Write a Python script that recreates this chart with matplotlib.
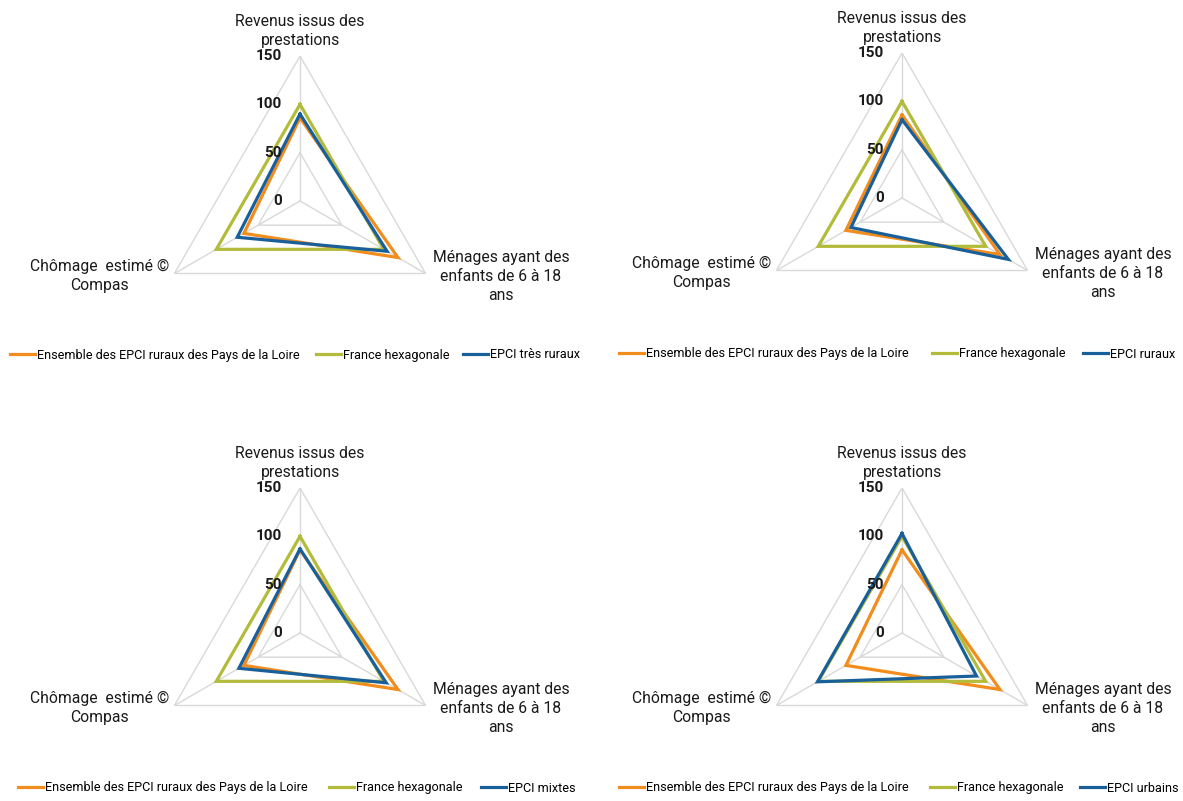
import numpy as np
import matplotlib
matplotlib.use("Agg")
import matplotlib.pyplot as plt
from matplotlib.lines import Line2D

plt.rcParams['font.family'] = ['Roboto', 'DejaVu Sans']

# data
categories = ["Revenus issus des\nprestations",
              "Ménages ayant des\nenfants de 6 à 18\nans",
              "Chômage  estimé ©\nCompas"]
ensemble_pdl = [86, 117, 67]
france_hexa  = [100, 100, 100]
epci_names   = ["EPCI très ruraux", "EPCI ruraux", "EPCI mixtes", "EPCI urbains"]
tres_ruraux  = [90, 104, 75]
ruraux       = [81, 127, 61]
mixtes       = [87, 103, 73]
urbains      = [103, 89, 101]
epci_values  = [tres_ruraux, ruraux, mixtes, urbains]
r_ticks      = [0, 50, 100, 150]

ORANGE = "#F28C1C"
GREEN  = "#B3BC3A"
BLUE   = "#19609A"
GRID   = "#D9D9D9"
TEXT   = "#1a1a1a"

W, H = 1183, 801
fig = plt.figure(figsize=(W / 100, H / 100), dpi=100)

# panel centers (px) and radius for 150
centers  = [(300, 201), (902, 198), (300, 633), (902, 633)]
legend_y = [355, 354, 788, 788]
# left x of each legend entry, per panel
legend_x = [(10, 316, 463), (619, 932, 1083), (18, 329, 481), (619, 930, 1080)]
R = 145

theta = np.linspace(0, 2 * np.pi, len(categories), endpoint=False)
theta_c = np.append(theta, theta[0])

for i in range(4):
    cx, cy = centers[i]
    ax = fig.add_axes([(cx - R) / W, (H - cy - R) / H, 2 * R / W, 2 * R / H],
                      projection="polar")
    ax.set_theta_offset(np.pi / 2)
    ax.set_theta_direction(-1)
    ax.set_ylim(0, 150)
    ax.grid(False)
    ax.spines["polar"].set_visible(False)
    ax.set_xticks([])
    ax.set_yticks([])
    ax.patch.set_alpha(0)

    # triangular gridlines + spokes
    for t in r_ticks[1:]:
        ax.plot(theta_c, [t] * len(theta_c), color=GRID, lw=1.0, zorder=1)
    for th in theta:
        ax.plot([th, th], [0, 150], color=GRID, lw=1.0, zorder=1)

    series = [(ensemble_pdl, ORANGE, "Ensemble des EPCI ruraux des Pays de la Loire"),
              (france_hexa, GREEN, "France hexagonale"),
              (epci_values[i], BLUE, epci_names[i])]
    for vals, col, lab in series:
        ax.plot(theta_c, vals + vals[:1], color=col, lw=2.3, zorder=3,
                solid_joinstyle="miter", label=lab)

    # radial tick labels
    for t in r_ticks:
        ax.annotate(str(t), xy=(0, t), xytext=(-13, 0), textcoords="offset points",
                    ha="right", va="center", fontsize=11, fontweight="bold",
                    color=TEXT, annotation_clip=False)

    # category labels
    kw = dict(textcoords="offset points", multialignment="center",
              fontsize=11.3, color=TEXT, annotation_clip=False, linespacing=1.32)
    ax.annotate(categories[0], xy=(theta[0], 150), xytext=(0, 6),
                ha="center", va="bottom", **kw)
    ax.annotate(categories[1], xy=(theta[1], 150), xytext=(5, -2),
                ha="left", va="center", **kw)
    ax.annotate(categories[2], xy=(theta[2], 150), xytext=(-4, -2),
                ha="right", va="center", **kw)

    # legend entries placed one by one, as in the original layout
    for (vals, col, lab), lx in zip(series, legend_x[i]):
        fig.legend([Line2D([], [], color=col, lw=2.3)], [lab], loc="center left",
                   bbox_to_anchor=(lx / W, 1 - legend_y[i] / H),
                   frameon=False, fontsize=9.1, handlelength=1.95,
                   handletextpad=0.15, borderpad=0, borderaxespad=0)

fig.savefig("out.png", dpi=100, facecolor="white")
